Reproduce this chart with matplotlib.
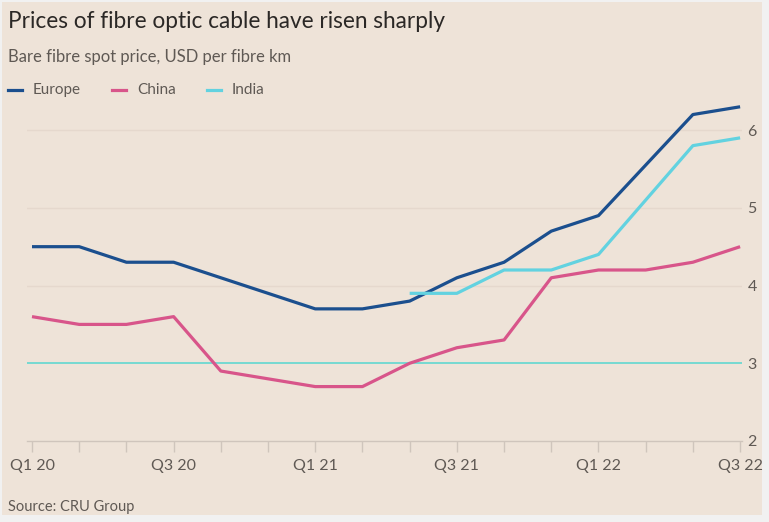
import numpy as np
import matplotlib.pyplot as plt
from matplotlib.patches import Rectangle
from matplotlib.lines import Line2D

# Bi-monthly spot prices, Q1 2020 to Q3 2022 (USD per fibre km)
periods = np.arange(16)
europe = [4.5, 4.5, 4.3, 4.3, 4.1, 3.9, 3.7, 3.7, 3.8, 4.1, 4.3, 4.7, 4.9, 5.55, 6.2, 6.3]
china = [3.6, 3.5, 3.5, 3.6, 2.9, 2.8, 2.7, 2.7, 3.0, 3.2, 3.3, 4.1, 4.2, 4.2, 4.3, 4.5]
india_periods = np.arange(8, 16)
india = [3.9, 3.9, 4.2, 4.2, 4.4, 5.1, 5.8, 5.9]

tick_pos = [0, 3, 6, 9, 12, 15]
tick_labels = ["Q1 20", "Q3 20", "Q1 21", "Q3 21", "Q1 22", "Q3 22"]
y_ticks = [2, 3, 4, 5, 6]

BG = "#eee3d8"
COLOR_EUROPE = "#1b4f8e"
COLOR_CHINA = "#d8558a"
COLOR_INDIA = "#62d2e0"
COLOR_CYAN = "#55d6d0"
TEXT = "#5f5954"

plt.rcParams["font.family"] = ["Lato", "DejaVu Sans"]

fig = plt.figure(figsize=(7.69, 5.22), dpi=100, facecolor="#f1f1f1")
fig.patches.append(
    Rectangle((2 / 769, 7 / 522), 760 / 769, 513 / 522, transform=fig.transFigure,
              facecolor=BG, edgecolor="none", zorder=-10)
)

ax = fig.add_axes([27 / 769, 1 - 441 / 522, 715 / 769, 342 / 522])
ax.set_facecolor("none")

series = [
    (periods, europe, COLOR_EUROPE, "Europe"),
    (periods, china, COLOR_CHINA, "China"),
    (india_periods, india, COLOR_INDIA, "India"),
]
for xs, ys, c, name in series:
    ax.plot(xs, ys, color=c, lw=2.3, label=name, solid_capstyle="butt", zorder=3)

ax.set_xlim(-0.106, 15.04)
ax.set_ylim(2, 6.4)

# gridlines
for y in y_ticks[1:]:
    c = COLOR_CYAN if y == 3 else "#e5d8cd"
    ax.axhline(y, color=c, lw=1.1 if y == 3 else 1.0, zorder=1)

for s in ["top", "left", "right"]:
    ax.spines[s].set_visible(False)
ax.spines["bottom"].set_color("#cfc5bc")
ax.spines["bottom"].set_linewidth(1.0)

ax.set_xticks(periods, minor=True)
ax.set_xticks(tick_pos, tick_labels)
ax.tick_params(axis="x", which="both", length=8, width=1.0, color="#cfc5bc",
               labelsize=11.5, labelcolor=TEXT, pad=5)
for t in ax.xaxis.get_major_ticks():
    if t.get_loc() in (6, 9):
        t.tick1line.set_color(COLOR_CYAN)

ax.yaxis.tick_right()
ax.set_yticks(y_ticks, [str(v) for v in y_ticks])
ax.tick_params(axis="y", length=0, labelsize=11.5, labelcolor=TEXT, pad=4)

fig.text(8 / 769, 1 - 21 / 522, "Prices of fibre optic cable have risen sharply",
         fontsize=16.3, color="#2b2826", va="center", ha="left")
fig.text(8 / 769, 1 - 57 / 522, "Bare fibre spot price, USD per fibre km",
         fontsize=12, color=TEXT, va="center", ha="left")
fig.text(8 / 769, 1 - 507 / 522, "Source: CRU Group",
         fontsize=10.5, color=TEXT, va="center", ha="left")

# legend, placed like the original key row
legend_x = [8, 112, 207]
for (xs, ys, c, name), lx in zip(series, legend_x):
    y = 1 - 90 / 522
    fig.add_artist(Line2D([lx / 769, (lx + 14) / 769], [y, y], color=c, lw=2.3,
                          transform=fig.transFigure))
    fig.text((lx + 25) / 769, y, name, fontsize=11, color=TEXT, va="center", ha="left")

fig.savefig("out.png", dpi=100, facecolor=fig.get_facecolor())
